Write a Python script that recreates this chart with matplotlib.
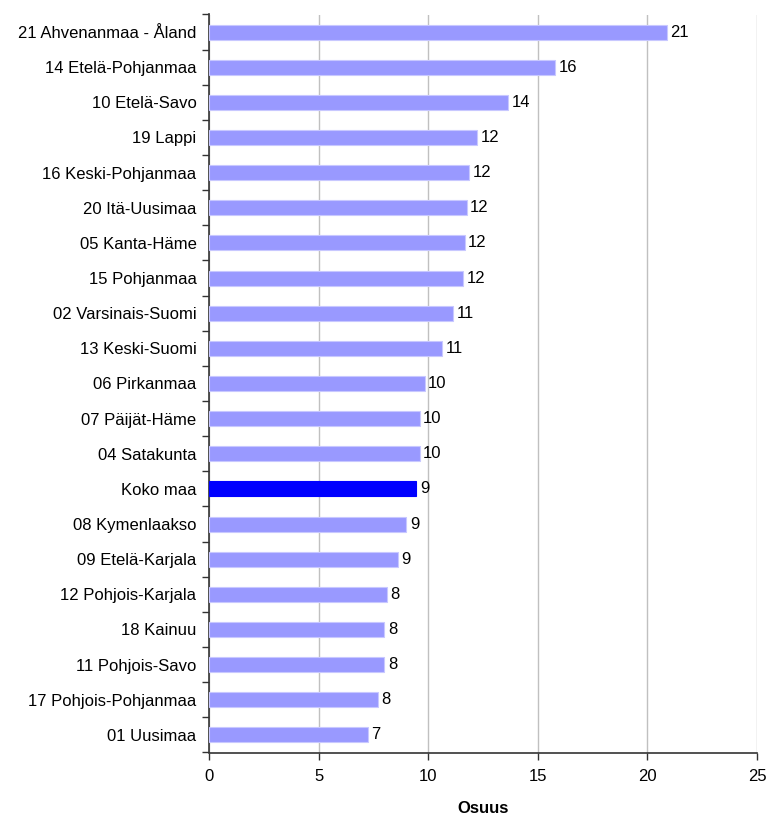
import matplotlib
matplotlib.use("Agg")
import matplotlib.pyplot as plt
import numpy as np

plt.rcParams['font.family'] = ['Liberation Sans', 'DejaVu Sans']

regions = ["21 Ahvenanmaa - Åland", "14 Etelä-Pohjanmaa", "10 Etelä-Savo", "19 Lappi",
           "16 Keski-Pohjanmaa", "20 Itä-Uusimaa", "05 Kanta-Häme", "15 Pohjanmaa",
           "02 Varsinais-Suomi", "13 Keski-Suomi", "06 Pirkanmaa", "07 Päijät-Häme",
           "04 Satakunta", "Koko maa", "08 Kymenlaakso", "09 Etelä-Karjala",
           "12 Pohjois-Karjala", "18 Kainuu", "11 Pohjois-Savo", "17 Pohjois-Pohjanmaa",
           "01 Uusimaa"]
values = [20.89, 15.79, 13.66, 12.24, 11.88, 11.75, 11.66, 11.59, 11.14, 10.65,
          9.84, 9.61, 9.61, 9.46, 9.01, 8.60, 8.13, 8.00, 8.00, 7.70, 7.26]
labels = ["21", "16", "14", "12", "12", "12", "12", "12", "11", "11", "10", "10",
          "10", "9", "9", "9", "8", "8", "8", "8", "7"]
highlight = "Koko maa"
x_ticks = [0, 5, 10, 15, 20, 25]
x_label = "Osuus"

FS = 12

fig = plt.figure(figsize=(7.66, 8.16), dpi=100)
ax = fig.add_axes([209/766, 1 - 752.5/816, (757-209)/766, (752.5-14.5)/816])

n = len(regions)
y = np.arange(n)
colors = ['#0000FF' if r == highlight else '#9999FF' for r in regions]
edges = ['#0000FF' if r == highlight else '#C8C8FF' for r in regions]
ax.barh(y, values, height=0.43, color=colors, edgecolor=edges, linewidth=0.8, zorder=3)
for yi, v, lab in zip(y, values, labels):
    ax.annotate(lab, (v, yi), xytext=(2.5, 0), textcoords='offset points',
                va='center', ha='left', fontsize=FS, color='black', zorder=4)

ax.set_ylim(n - 0.5, -0.5)
ax.set_xlim(0, 25)
ax.set_xticks(x_ticks)
ax.set_xticklabels([str(t) for t in x_ticks], fontsize=FS)
ax.set_yticks(y)
ax.set_yticklabels(regions, fontsize=FS)
ax.tick_params(axis='y', length=0, pad=9)
ax.set_yticks(np.arange(-0.5, n, 1.0), minor=True)
ax.tick_params(axis='y', which='minor', length=5, width=1, color='#333333', direction='out')
ax.tick_params(axis='x', length=5, width=1, color='#333333', direction='out', pad=7)

ax.xaxis.grid(True, color='#C0C0C0', linewidth=1, zorder=0)
ax.set_axisbelow(True)
for s in ['top', 'right']:
    ax.spines[s].set_visible(False)
ax.spines['left'].set_color('#333333')
ax.spines['bottom'].set_color('#333333')
ax.spines['left'].set_linewidth(1.2)
ax.spines['bottom'].set_linewidth(1.2)

ax.set_xlabel(x_label, fontsize=FS, fontweight='bold', labelpad=12)

fig.savefig("out.png", dpi=100)
